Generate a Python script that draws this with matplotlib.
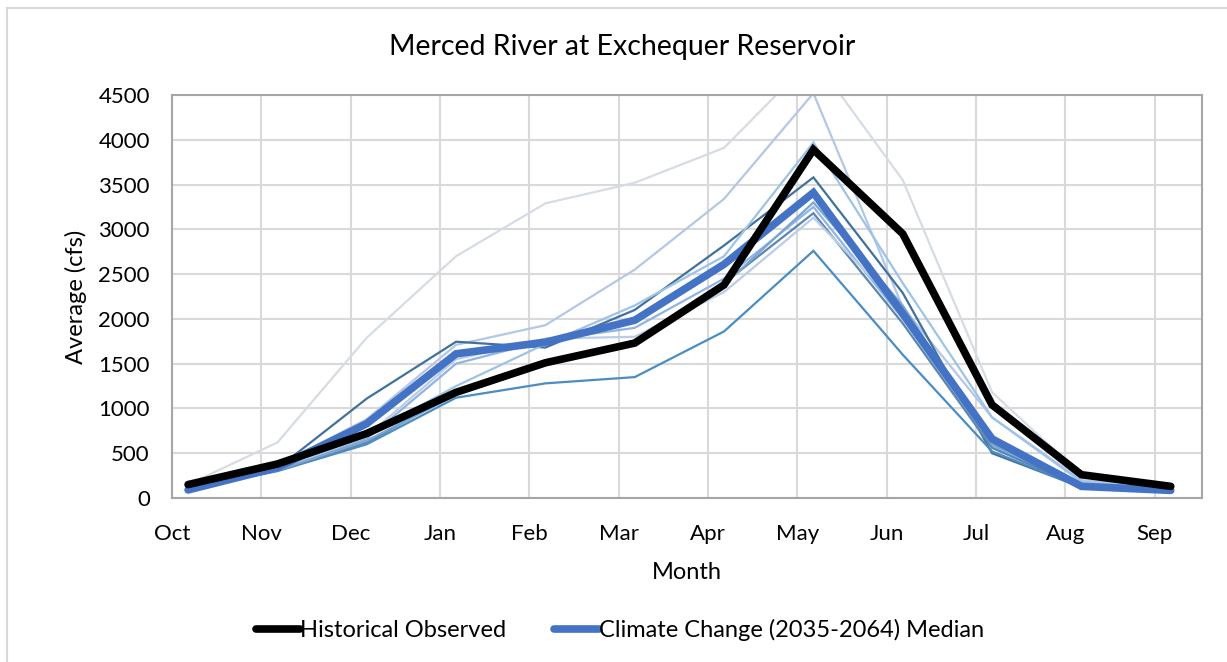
import matplotlib
matplotlib.use("Agg")
import matplotlib.pyplot as plt
import numpy as np
from matplotlib.patches import Rectangle

plt.rcParams['font.family'] = ['Lato', 'DejaVu Sans']

months = ["Oct", "Nov", "Dec", "Jan", "Feb", "Mar", "Apr", "May", "Jun", "Jul", "Aug", "Sep"]
y_ticks = [0, 500, 1000, 1500, 2000, 2500, 3000, 3500, 4000, 4500]

historical = [150, 380, 720, 1180, 1510, 1730, 2380, 3890, 2950, 1040, 260, 130]
cc_median = [90, 340, 830, 1610, 1740, 1985, 2610, 3410, 2060, 660, 130, 85]

# individual climate-change projections (thin lines)
proj_1 = [150, 620, 1790, 2700, 3290, 3520, 3910, 4920, 3550, 1180, 260, 120]
proj_2 = [120, 360, 880, 1710, 1930, 2550, 3340, 4520, 2130, 900, 200, 100]
proj_3 = [100, 330, 1110, 1745, 1680, 2100, 2820, 3580, 2290, 500, 120, 80]
proj_4 = [100, 300, 600, 1120, 1280, 1350, 1860, 2760, 1600, 520, 120, 80]
proj_5 = [110, 320, 700, 1250, 1720, 2150, 2700, 3970, 2400, 900, 180, 90]
proj_6 = [100, 310, 660, 1500, 1760, 1900, 2450, 3250, 2000, 580, 120, 80]
proj_7 = [100, 305, 620, 1170, 1500, 1720, 2400, 3180, 1950, 560, 120, 75]
proj_8 = [100, 320, 690, 1550, 1780, 1800, 2300, 3130, 2100, 620, 130, 80]
proj_9 = [100, 310, 640, 1150, 1480, 1760, 2380, 3300, 2150, 600, 130, 80]

projections = [proj_1, proj_2, proj_3, proj_4, proj_5, proj_6, proj_7, proj_8, proj_9]
proj_colors = ["#d6dce5", "#b4c7e7", "#41719c", "#4a8cc4", "#9dc3e6",
               "#8fb4e3", "#5a86b0", "#b9cde9", "#7aa6d4"]

fig = plt.figure(figsize=(12.27, 6.62), dpi=100)
fig.patches.append(Rectangle((7 / 1227, -0.1), 1.2, 1 - 8 / 662 + 0.1,
                             transform=fig.transFigure, fill=False,
                             edgecolor="#d9d9d9", linewidth=1.5, zorder=0))

ax = fig.add_axes([172 / 1227, 1 - 498 / 662, (1202 - 172) / 1227, (498 - 95) / 662])

pos = np.arange(len(months))
offset = 0.18
xdata = pos + offset

for vals, col in zip(projections, proj_colors):
    ax.plot(xdata, vals, color=col, linewidth=1.6, zorder=2, solid_joinstyle="miter")

ax.plot(xdata, cc_median, color="#4472c4", linewidth=5.5, zorder=3,
        solid_capstyle="round", solid_joinstyle="miter",
        label="Climate Change (2035-2064) Median")
ax.plot(xdata, historical, color="black", linewidth=5.5, zorder=4,
        solid_capstyle="round", solid_joinstyle="miter",
        label="Historical Observed")

ax.set_xlim(0, 11.53)
ax.set_ylim(0, 4500)
ax.set_xticks(pos)
ax.set_xticklabels(months)
ax.set_yticks(y_ticks)
ax.set_yticklabels([str(v) for v in y_ticks])
ax.tick_params(length=0, labelsize=16, colors="#000000")
ax.tick_params(axis="x", pad=19)
ax.tick_params(axis="y", pad=16)
ax.grid(True, color="#d9d9d9", linewidth=1.5, zorder=0)
ax.set_axisbelow(True)
for s in ax.spines.values():
    s.set_color("#a6a6a6")
    s.set_linewidth(1.5)

ax.set_xlabel("Month", fontsize=17, labelpad=13)
ax.set_ylabel("Average (cfs)", fontsize=17, labelpad=8)
fig.text((390 + 855) / 2 / 1227, 1 - 47 / 662, "Merced River at Exchequer Reservoir",
         ha="center", va="center", fontsize=20.5)

handles, labels = ax.get_legend_handles_labels()
leg = fig.legend(handles[::-1], labels[::-1], loc="center", bbox_to_anchor=(0.505, 1 - 630 / 662),
                 ncol=2, frameon=False, fontsize=17, handlelength=1.9,
                 handletextpad=0.0, columnspacing=2.0)

fig.savefig("out.png", dpi=100)
